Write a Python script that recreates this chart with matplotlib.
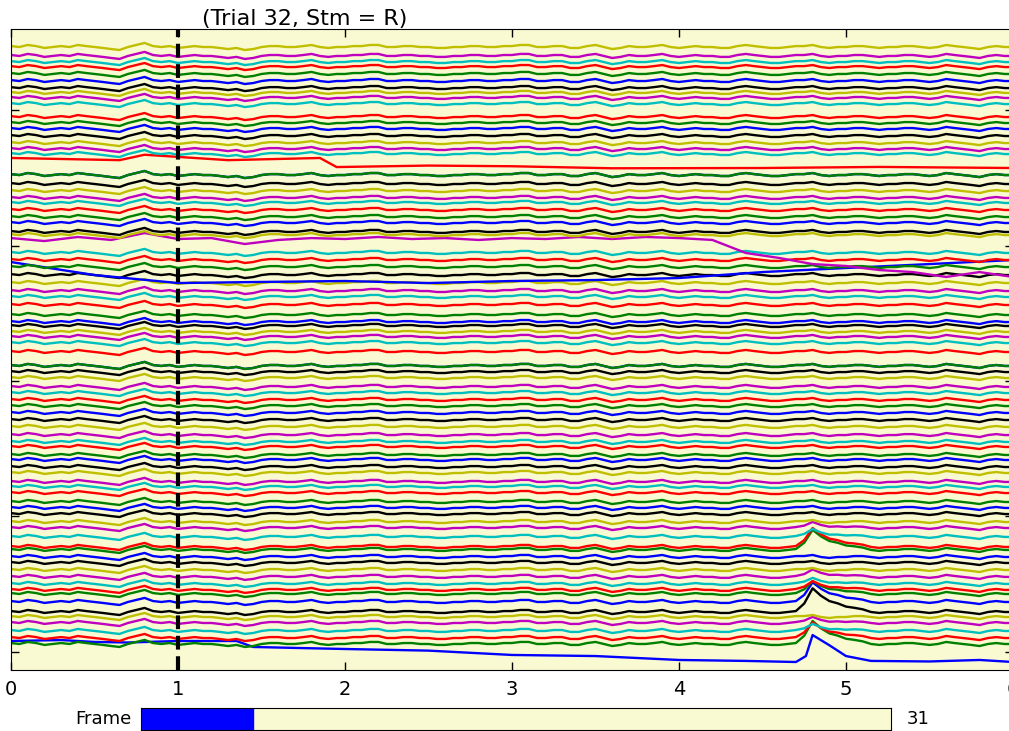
import numpy as np
import matplotlib
matplotlib.use("Agg")
import matplotlib.pyplot as plt

trial = 32
stimulus = "R"
stim_onset = 1.0
frame_value = 31
frame_max = 208

trace_colors = ['b', 'g', 'r', 'c', 'm', 'y', 'k']

# baseline of each trace, bottom (0) to top (89)
trace_offsets = [
    0.081, 0.059, 0.103, 0.155, 0.214, 0.258, 0.295, 0.369, 0.428, 0.458,
    0.502, 0.554, 0.605, 0.657, 0.701, 0.753, 0.775, 0.849, 0.915, 0.959,
    1.018, 1.063, 1.107, 1.173, 1.218, 1.255, 1.321, 1.365, 1.417, 1.454,
    1.513, 1.550, 1.601, 1.661, 1.712, 1.764, 1.815, 1.860, 1.911, 1.956,
    2.022, 2.066, 2.111, 2.111, 2.214, 2.280, 2.325, 2.362, 2.406, 2.435,
    2.487, 2.561, 2.620, 2.664, 2.723, 2.782, 2.878, 2.841, 2.893, 2.945,
    3.055, 3.077, 3.100, 3.166, 3.210, 3.262, 3.314, 3.351, 3.402, 3.454,
    3.520, 3.520, 3.646, 3.675, 3.712, 3.756, 3.808, 3.860, 3.904, 3.948,
    4.044, 4.089, 4.126, 4.162, 4.214, 4.266, 4.317, 4.354, 4.399, 4.465,
]

# time axis (s) and the shared fluctuation, 0.05 s apart
time_grid = np.arange(121) * 0.05
common_wave = [
    0.007, 0.000, 0.015, 0.007, -0.007, 0.000, 0.007, 0.000, 0.015, 0.007,
    0.000, -0.007, -0.015, -0.022, 0.000, 0.015, 0.030, 0.007, 0.000, 0.007,
    -0.007, 0.000, 0.007, 0.000, 0.000, -0.007, -0.015, -0.007, -0.022, -0.015,
    0.000, 0.007, 0.007, 0.000, 0.000, 0.007, 0.015, 0.000, -0.007, 0.000,
    0.000, 0.007, 0.007, 0.015, 0.015, 0.000, 0.000, 0.007, 0.007, 0.000,
    0.000, -0.007, -0.007, 0.000, 0.000, 0.007, 0.007, 0.000, 0.000, 0.007,
    0.007, 0.015, 0.015, 0.000, 0.000, 0.007, 0.007, -0.007, -0.007, 0.007,
    0.015, 0.000, -0.015, -0.007, 0.007, 0.000, 0.000, 0.007, 0.015, 0.000,
    -0.007, 0.000, 0.007, 0.000, 0.000, -0.007, -0.007, 0.007, 0.015, 0.007,
    0.000, -0.007, -0.007, 0.000, 0.007, 0.007, 0.015, 0.000, -0.007, 0.000,
    0.000, 0.007, 0.007, 0.000, -0.007, 0.000, 0.000, 0.007, 0.007, 0.000,
    -0.007, 0.000, 0.015, 0.007, 0.000, -0.007, -0.015, 0.000, 0.007, 0.000,
    0.000,
]

# transient starting at t = 4.70 s on the lower traces (0.05 s steps)
bump_shape = [0.0, 0.35, 1.0, 0.75, 0.55, 0.4, 0.25, 0.15, 0.08]
bump_traces = [1, 2, 3, 4, 6, 7, 8, 9, 10, 11, 15, 16, 17, 18]
bump_heights = [0.155, 0.10, 0.037, 0.03, 0.16, 0.13, 0.08, 0.05, 0.03, 0.04,
                0.133, 0.125, 0.044, 0.03]

# traces that drift, given as (time, value) points
blue_bottom_t = [0, 0.3, 0.5, 0.7, 1.0, 1.35, 1.45, 1.7, 2.0, 2.5, 3.0, 3.5, 4.0,
                 4.4, 4.7, 4.76, 4.8, 4.9, 5.0, 5.15, 5.5, 5.8, 6.0]
blue_bottom_v = [0.081, 0.088, 0.074, 0.070, 0.081, 0.081, 0.037, 0.030, 0.022, 0.010,
                 -0.022, -0.030, -0.059, -0.066, -0.074, -0.030, 0.125, 0.050, -0.030,
                 -0.066, -0.070, -0.059, -0.074]
blue_drift_t = [0, 0.5, 1.0, 1.5, 2.0, 2.5, 3.0, 3.5, 4.0, 4.5, 5.0, 5.5, 6.0]
blue_drift_v = [2.878, 2.782, 2.723, 2.731, 2.738, 2.723, 2.738, 2.745, 2.760, 2.804,
                2.834, 2.863, 2.893]
magenta_drift_t = [0, 0.2, 0.4, 0.6, 0.8, 1.0, 1.2, 1.4, 1.6, 1.8, 2.0, 2.2, 2.4, 2.6,
                   2.8, 3.0, 3.2, 3.4, 3.6, 3.8, 4.0, 4.2, 4.4, 4.6, 4.8, 5.0, 5.2,
                   5.4, 5.6, 5.8, 6.0]
magenta_drift_v = [3.055, 3.033, 3.063, 3.041, 3.092, 3.048, 3.055, 3.011, 3.041, 3.055,
                   3.048, 3.063, 3.048, 3.055, 3.041, 3.055, 3.048, 3.063, 3.048, 3.063,
                   3.055, 3.041, 2.945, 2.908, 2.863, 2.849, 2.819, 2.804, 2.768, 2.804,
                   2.768]
red_step_t = [0, 0.65, 0.8, 1.3, 1.85, 1.95, 2.5, 3.0, 3.6, 4.5, 5.2, 6.0]
red_step_v = [3.646, 3.630, 3.670, 3.630, 3.646, 3.579, 3.590, 3.585, 3.570, 3.572,
              3.580, 3.572]

special_traces = {
    0: (blue_bottom_t, blue_bottom_v),
    56: (blue_drift_t, blue_drift_v),
    60: (magenta_drift_t, magenta_drift_v),
    72: (red_step_t, red_step_v),
}

W, H = 1009, 731
fig = plt.figure(figsize=(W / 100, H / 100), dpi=100)
ax = fig.add_axes([11 / W, 61 / H, 1002 / W, 641 / H])
ax.set_facecolor('#FAFAD2')

wave = np.array(common_wave)
for i, base in enumerate(trace_offsets):
    color = trace_colors[i % 7]
    if i in special_traces:
        xs, ys = special_traces[i]
        ax.plot(xs, ys, color=color, lw=1.7)
        continue
    ys = base + wave
    if i in bump_traces:
        h = bump_heights[bump_traces.index(i)]
        ys[94:103] += h * np.array(bump_shape)
    ax.plot(time_grid, ys, color=color, lw=1.7)

ax.axvline(stim_onset, color='k', lw=3, ls=(0, (3.3, 1.6)))

ax.set_xlim(0, 6)
ax.set_ylim(-0.133, 4.598)
ax.set_xticks([0, 1, 2, 3, 4, 5, 6])
ax.set_yticks([0, 1, 2, 3, 4])
ax.set_yticklabels([])
ax.tick_params(direction='in', top=True, right=True, length=6, width=1)
ax.tick_params(axis='x', labelsize=14, pad=7)

fig.text(305 / W, 1 - 19 / H, f"(Trial {trial}, Stm = {stimulus})",
         ha='center', va='center', fontsize=16)

# frame slider
sax = fig.add_axes([141 / W, 1 / H, 750 / W, 22 / H])
sax.set_facecolor('#FAFAD2')
sax.axvspan(0, frame_value, color='b')
sax.set_xlim(0, frame_max)
sax.set_xticks([])
sax.set_yticks([])
sax.text(-0.013, 0.5, 'Frame', transform=sax.transAxes, ha='right', va='center', fontsize=13)
sax.text(1.021, 0.5, str(frame_value), transform=sax.transAxes, ha='left', va='center', fontsize=13)

fig.savefig('out.png', dpi=100)
